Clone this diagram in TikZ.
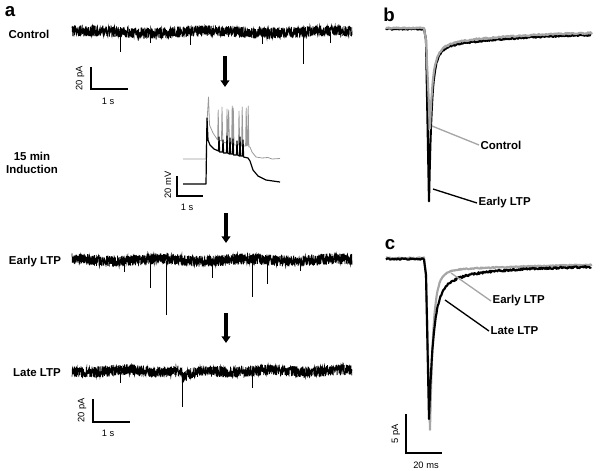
\documentclass[tikz,border=0pt]{standalone}
\usepackage{fontspec}
\setmainfont{Liberation Sans}
\usetikzlibrary{arrows.meta}
\tikzset{
	rowlabel/.style={font=\fontsize{8.6}{10}\selectfont\bfseries, align=center, inner sep=1pt},
	panel/.style={font=\fontsize{14}{16}\selectfont\bfseries, inner sep=0pt},
	barlabel/.style={font=\fontsize{7}{8}\selectfont, inner sep=0pt},
	scalebar/.style={line width=1pt, line cap=rect},
	noisy/.style={line width=0.5pt, black},
	bigarrow/.style={line width=2.3pt, -{Triangle[width=6.5pt,length=5pt]}},
	graytrace/.style={line width=1.6pt, black!35, line join=round},
	blacktrace/.style={line width=1.6pt, black, line join=round},
}
\begin{document}
\begin{tikzpicture}[x=0.75pt, y=-0.75pt]
		\useasboundingbox (0,0) rectangle (600,471);
		\pgfmathsetseed{17}

		% panel a
		\node[panel] (pa) at (10,12) {a};

		% control
		\node[rowlabel] (lctrl) at (29,34) {Control};
		\draw[noisy] plot[domain=72:352, samples=1800] (\x,{32+5.6*rand+1.2*sin(3*\x)});
		\foreach \sx/\sy in {120/52, 303/64, 190/45, 262/44, 150/43, 330/43}
			\draw[noisy] (\sx,32) -- (\sx,\sy);
		\coordinate (arrAs) at (225,56);
		\coordinate (arrAe) at (225,87);
		\draw[bigarrow] (arrAs) -- (arrAe);

		% scale bar
		\coordinate (sbA) at (91,89);
		\draw[scalebar] (91,68) -- (sbA) -- (127,89);
		\node[barlabel, rotate=90] (sbAy) at (80,78) {20 pA};
		\node[barlabel] (sbAx) at (108,101) {1 s};

		% induction
		\node[rowlabel] (lind) at (32,163) {15 min\\Induction};
		\draw[line width=0.6pt, black!40, line join=round] (183,159) -- (206,159) -- (207,122) -- (208.5,97) -- (209.5,125) -- (213,133) -- (217,139)
			-- (217.6,140) -- (218.2,110) -- (218.8,140) -- (221.5,141) -- (222,107) -- (222.8,142)
			-- (226.5,143) -- (227,109) -- (227.6,143) -- (228.7,110) -- (229.4,144)
			-- (231.6,144) -- (232.2,106) -- (232.8,144) -- (233.3,108) -- (234,145)
			-- (238.5,145) -- (239,111) -- (239.7,145) -- (241.6,146) -- (242.2,107) -- (242.9,146)
			-- (245.6,146) -- (246.2,108) -- (246.9,146) -- (247.6,145) -- (248.2,106) -- (248.9,147)
			-- (250,147) -- (252,152) -- (256,157) -- (262,158) -- (268,157.5) -- (272,159) -- (280,158.5);
		\draw[line width=0.9pt, black, line join=round] (183,184) -- (206,184) -- (207,118) -- (208,140) -- (210,145) -- (214,149) -- (218.5,151)
			-- (219,137) -- (219.6,152) -- (222.5,152) -- (223,140) -- (223.6,153)
			-- (226.5,153) -- (227,136) -- (227.6,153) -- (229.5,154) -- (230,138) -- (230.6,154)
			-- (232.5,154) -- (233,139) -- (233.6,155) -- (236.5,155) -- (237,141) -- (237.6,155)
			-- (239.5,156) -- (240,137) -- (240.6,156) -- (242.5,156) -- (243,140) -- (243.6,157)
			-- (248,158) -- (250,161) -- (253,170) -- (258,176) -- (266,180) -- (280,182);
		\coordinate (sbB) at (177,196);
		\draw[scalebar] (177,177) -- (sbB) -- (202,196);
		\node[barlabel, rotate=90] (sbBy) at (168,185) {20 mV};
		\node[barlabel] (sbBx) at (187,207) {1 s};
		\coordinate (arrBs) at (226,213);
		\coordinate (arrBe) at (226,243);
		\draw[bigarrow] (arrBs) -- (arrBe);

		% early ltp
		\node[rowlabel] (learly) at (35,262) {Early LTP};
		\draw[noisy] plot[domain=72:352, samples=1800] (\x,{260+5.6*rand+1.2*sin(4*\x)});
		\foreach \sx/\sy in {150/288, 166/315, 212/278, 252/297, 267/284, 124/272, 300/271}
			\draw[noisy] (\sx,261) -- (\sx,\sy);
		\coordinate (arrCs) at (226,313);
		\coordinate (arrCe) at (226,343);
		\draw[bigarrow] (arrCs) -- (arrCe);

		% late ltp
		\node[rowlabel] (llate) at (37,373) {Late LTP};
		\draw[noisy] plot[domain=72:352, samples=1800] (\x,{371+5.6*rand+1.2*sin(5*\x)+(\x>182)*7*exp(-(\x-182)/12)});
		\foreach \sx/\sy in {182/407, 252/388, 120/383}
			\draw[noisy] (\sx,372) -- (\sx,\sy);
		\coordinate (sbC) at (93,422);
		\draw[scalebar] (93,400) -- (sbC) -- (129,422);
		\node[barlabel, rotate=90] (sbCy) at (82,410) {20 pA};
		\node[barlabel] (sbCx) at (108,433) {1 s};

		% panel b
		\node[panel] (pb) at (389,15) {b};
		\draw[blacktrace] plot[domain=386:424, samples=40] (\x,{29+0.7*rand}) -- (426,40)
			-- plot[domain=0:162, samples=240] ({429+\x},{33+169*(0.76*exp(-\x/2.5)+0.15*exp(-\x/8)+0.09*exp(-\x/80))+0.8*rand});
		\draw[graytrace] plot[domain=386:424, samples=40] (\x,{28+0.7*rand}) -- (426,40)
			-- plot[domain=0:162, samples=240] ({430+\x},{31+97*(0.6*exp(-\x/2.5)+0.25*exp(-\x/8)+0.15*exp(-\x/80))+0.8*rand});
		\node[rowlabel, anchor=west] (bctrl) at (479,145) {Control};
		\node[rowlabel, anchor=west] (bearly) at (477,203) {Early LTP};
		\coordinate (bctrltip) at (432,126);
		\coordinate (bearlytip) at (433,189);
		\draw[line width=1pt, black!35] (bctrltip) -- (bctrl.west);
		\draw[line width=1pt, black] (bearlytip) -- (bearly.west);

		% panel c
		\node[panel] (pc) at (390,245) {c};
		\draw[graytrace] plot[domain=386:424, samples=40] (\x,{258+0.6*rand}) -- (426,275)
			-- plot[domain=0:162, samples=240] ({430+\x},{262+168*(0.8*exp(-\x/3)+0.15*exp(-\x/8)+0.05*exp(-\x/150))+0.6*rand});
		\draw[blacktrace] plot[domain=386:424, samples=40] (\x,{259+0.7*rand}) -- (426,275)
			-- plot[domain=0:162, samples=240] ({429+\x},{266+154*(0.7*exp(-\x/4)+0.2*exp(-\x/12)+0.1*exp(-\x/60))+1.0*rand});
		\node[rowlabel, anchor=west] (cearly) at (491,301) {Early LTP};
		\node[rowlabel, anchor=west] (clate) at (489,331) {Late LTP};
		\coordinate (cearlytip) at (451,273);
		\coordinate (clatetip) at (445,300);
		\draw[line width=1pt, black!35] (cearlytip) -- (cearly.west);
		\draw[line width=1pt, black] (clatetip) -- (clate.west);
		\coordinate (sbD) at (406,453);
		\draw[scalebar] (406,415) -- (sbD) -- (441,453);
		\node[barlabel, rotate=90] (sbDy) at (396,434) {5 pA};
		\node[barlabel] (sbDx) at (426,465) {20 ms};
	\end{tikzpicture}
\end{document}
